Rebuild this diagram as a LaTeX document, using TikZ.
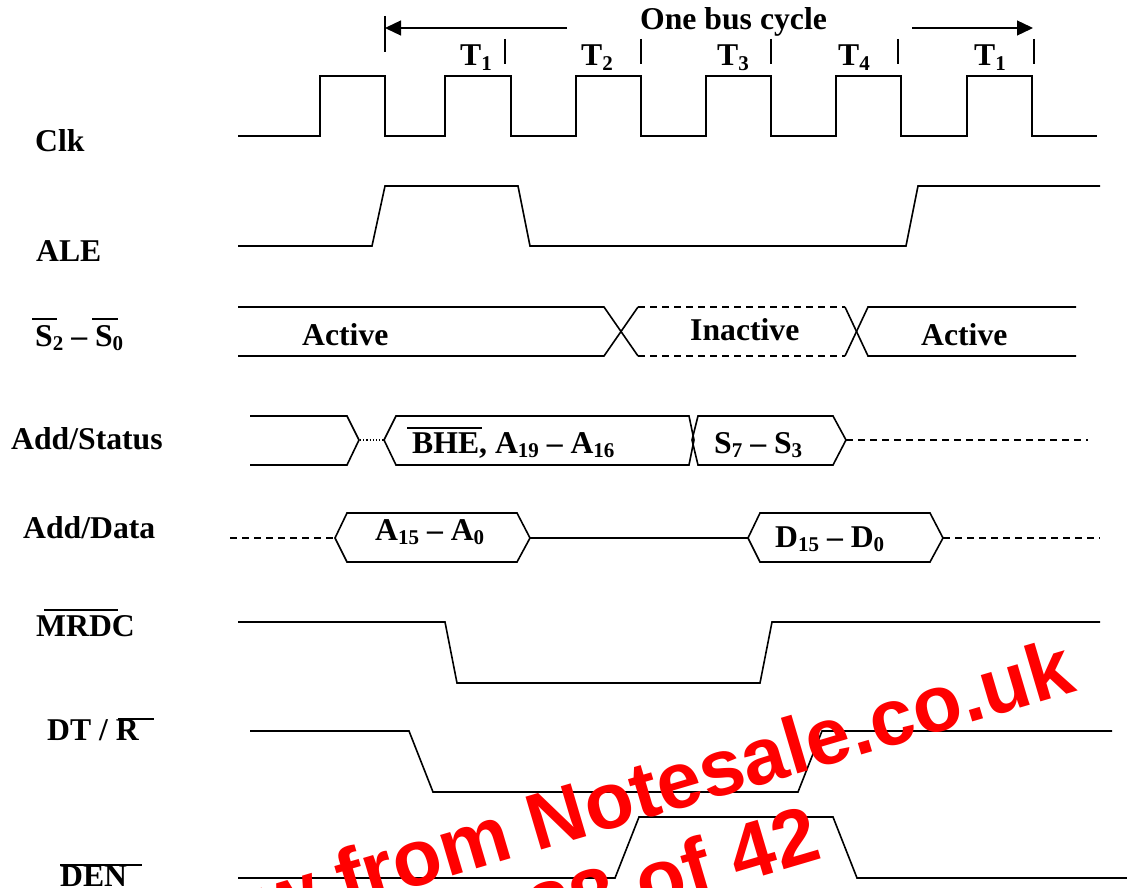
\documentclass[tikz,border=0pt]{standalone}
\usepackage{fontspec}
\setmainfont{Liberation Serif}
\newfontfamily\marksans{Liberation Sans}
\usepackage{tikz}
\usetikzlibrary{arrows.meta, positioning, calc}
\definecolor{markred}{RGB}{255,0,0}
\newcommand{\lowidx}[1]{{\fontsize{21}{21}\selectfont\raisebox{-4.5pt}{#1}}}

\begin{document}
\begin{tikzpicture}[
    x=1pt, y=-1pt,
    wave/.style={line width=1.6pt, black},
    fade/.style={wave, dash pattern=on 7pt off 5pt},
    tick/.style={line width=1.2pt, black},
    overbar/.style={line width=1.5pt, black},
    arrow/.style={-{Triangle[length=16pt, width=15pt]}, line width=1.3pt},
    signal/.style={font=\bfseries\fontsize{31.7}{34}\selectfont, inner sep=0pt, anchor=base west},
    stamp/.style={font=\marksans\bfseries\fontsize{80}{84}\selectfont, text=markred, inner sep=0pt, anchor=base west, rotate=16.5}
]
\useasboundingbox (0,0) rectangle (1127,888);
\clip (0,0) rectangle (1127,888);

\node[signal] (clk) at (35,152) {Clk};
\node[signal] (ale) at (36,261) {ALE};
\node[signal] (status) at (35,346) {S\lowidx{2} -- S\lowidx{0}};
\node[signal] (addstatus) at (11,449) {Add/Status};
\node[signal] (adddata) at (23,538) {Add/Data};
\node[signal] (mrdc) at (36,636) {MRDC};
\node[signal] (dtr) at (47,740) {DT / R};
\node[signal] (den) at (60,886) {DEN};
\draw[overbar] (32,319) -- (57,319);
\draw[overbar] (92,319) -- (118,319);
\draw[overbar] (44,610) -- (118,610);
\draw[overbar] (118,719) -- (154,719);
\draw[overbar] (60,865) -- (142,865);

\draw[wave] (238,136) -- (320,136) -- (320,76) -- (385,76) -- (385,136) -- (445,136) -- (445,76) -- (511,76) -- (511,136) -- (576,136) -- (576,76) -- (641,76) -- (641,136) -- (706,136) -- (706,76) -- (771,76) -- (771,136) -- (836,136) -- (836,76) -- (901,76) -- (901,136) -- (967,136) -- (967,76) -- (1032,76) -- (1032,136) -- (1097,136);

\node[signal] (busname) at (640,30) {One bus cycle};
\node[signal] (tone) at (460,66) {T\lowidx{1}};
\node[signal] (ttwo) at (581,66) {T\lowidx{2}};
\node[signal] (tthree) at (717,66) {T\lowidx{3}};
\node[signal] (tfour) at (838,66) {T\lowidx{4}};
\node[signal] (tlast) at (974,66) {T\lowidx{1}};
\draw[tick] (385,16) -- (385,52);
\draw[tick] (505,39) -- (505,64);
\draw[tick] (641,39) -- (641,64);
\draw[tick] (771,39) -- (771,64);
\draw[tick] (898,39) -- (898,64);
\draw[tick] (1034,39) -- (1034,64);
\coordinate (backfrom) at (567,28);
\coordinate (backto) at (385,28);
\coordinate (forefrom) at (912,28);
\coordinate (foreto) at (1033,28);
\draw[arrow] (backfrom) -- (backto);
\draw[arrow] (forefrom) -- (foreto);

\draw[wave] (238,246) -- (372,246) -- (385,186) -- (518,186) -- (530,246) -- (906,246) -- (918,186) -- (1100,186);

\draw[wave] (238,307) -- (604,307) -- (638,356);
\draw[wave] (238,356) -- (604,356) -- (638,307);
\draw[fade] (638,307) -- (845,307);
\draw[fade] (638,356) -- (845,356);
\draw[wave] (845,307) -- (868,356) -- (1076,356);
\draw[wave] (845,356) -- (868,307) -- (1076,307);
\node[signal] (activeone) at (302,345) {Active};
\node[signal] (inactive) at (690,340) {Inactive};
\node[signal] (activetwo) at (921,345) {Active};

\draw[wave] (250,416) -- (347,416) -- (359,440) -- (347,465) -- (250,465);
\draw[line width=1.2pt, dotted] (360,440) -- (384,440);
\draw[wave] (384,440) -- (396,416) -- (689,416) -- (694,440) -- (689,465) -- (396,465) -- cycle;
\draw[wave] (692,440) -- (698,416) -- (833,416) -- (846,440) -- (833,465) -- (698,465) -- cycle;
\draw[fade] (846,440) -- (1088,440);
\node[signal] (bhe) at (412,453) {BHE, A\lowidx{19} -- A\lowidx{16}};
\node[signal] (statusbits) at (714,453) {S\lowidx{7} -- S\lowidx{3}};
\draw[overbar] (407,428) -- (482,428);

\draw[fade] (230,538) -- (335,538);
\draw[wave] (335,538) -- (347,513) -- (517,513) -- (530,538) -- (517,562) -- (347,562) -- cycle;
\draw[wave] (530,538) -- (748,538);
\draw[wave] (748,538) -- (760,513) -- (930,513) -- (943,538) -- (930,562) -- (760,562) -- cycle;
\draw[fade] (943,538) -- (1100,538);
\node[signal] (addrbits) at (375,540) {A\lowidx{15} -- A\lowidx{0}};
\node[signal] (databits) at (775,547) {D\lowidx{15} -- D\lowidx{0}};

\draw[wave] (238,622) -- (445,622) -- (457,683) -- (760,683) -- (772,622) -- (1100,622);
\draw[wave] (250,731) -- (409,731) -- (433,792) -- (798,792) -- (822,731) -- (1112,731);
\draw[wave] (238,878) -- (615,878) -- (639,817) -- (833,817) -- (857,878) -- (1127,878);

\node[stamp] (markone) at (264,932) {w from Notesale.co.uk};
\node[stamp] (marktwo) at (538,943) {28 of 42};

\end{tikzpicture}
\end{document}
